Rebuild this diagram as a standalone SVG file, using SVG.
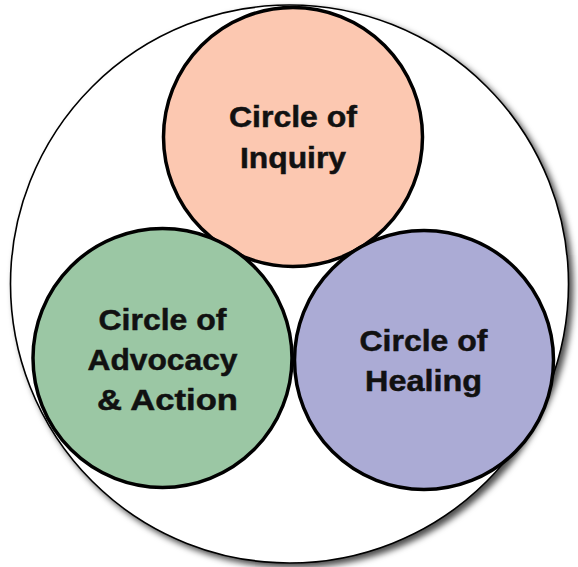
<svg xmlns="http://www.w3.org/2000/svg" width="578" height="567" viewBox="0 0 578 567">
<defs>
<filter id="sh" x="-10%" y="-10%" width="125%" height="125%">
<feDropShadow dx="4" dy="4" stdDeviation="3" flood-color="#000" flood-opacity="0.7"/>
</filter>
<style>
.outer{fill:#fff;stroke:#000;stroke-width:1.6}
.c{stroke:#000;stroke-width:3.5}
.t{font-family:"Liberation Sans",Arial,Helvetica,sans-serif;font-weight:bold;font-size:29.5px;fill:#111;stroke:#111;stroke-width:0.5;text-anchor:middle}
</style>
</defs>
<rect width="578" height="567" fill="#fff"/>
<g id="outer">
<circle class="outer" cx="289.5" cy="284" r="279" filter="url(#sh)"/>
</g>
<g id="inquiry">
<circle class="c" cx="293" cy="137" r="129.5" fill="#FCC8B1"/>
<text class="t" x="293" y="127" textLength="128" lengthAdjust="spacingAndGlyphs">Circle of</text>
<text class="t" x="293" y="168" textLength="106" lengthAdjust="spacingAndGlyphs">Inquiry</text>
</g>
<g id="advocacy">
<circle class="c" cx="162.5" cy="358" r="129.5" fill="#9BC7A4"/>
<text class="t" x="162.5" y="330" textLength="128" lengthAdjust="spacingAndGlyphs">Circle of</text>
<text class="t" x="162.5" y="370" textLength="150" lengthAdjust="spacingAndGlyphs">Advocacy</text>
<text class="t" x="167.5" y="410" textLength="141" lengthAdjust="spacingAndGlyphs">&amp; Action</text>
</g>
<g id="healing">
<circle class="c" cx="424" cy="360" r="129.5" fill="#ABABD5"/>
<text class="t" x="423.5" y="351" textLength="128" lengthAdjust="spacingAndGlyphs">Circle of</text>
<text class="t" x="423.5" y="391" textLength="117" lengthAdjust="spacingAndGlyphs">Healing</text>
</g>
<g id="connectors"></g>
</svg>
